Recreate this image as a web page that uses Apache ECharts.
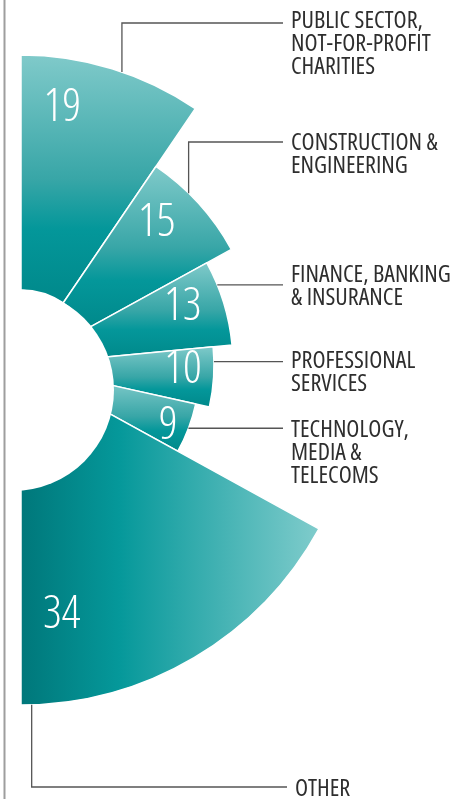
<!DOCTYPE html>
<html>
<head>
<meta charset="utf-8">
<script src="https://cdn.jsdelivr.net/npm/echarts@6/dist/echarts.min.js"></script>
<style>
  html, body { margin: 0; padding: 0; background: #fff; }
  #chart { width: 462px; height: 799px; }
</style>
</head>
<body>
<div id="chart"></div>
<script>
// Respondents by sector, per cent
const sectors = [
  'PUBLIC SECTOR,\nNOT-FOR-PROFIT\nCHARITIES',
  'CONSTRUCTION &\nENGINEERING',
  'FINANCE, BANKING\n& INSURANCE',
  'PROFESSIONAL\nSERVICES',
  'TECHNOLOGY,\nMEDIA &\nTELECOMS',
  'OTHER'
];
const shares = [19, 15, 13, 10, 9, 34];

// Geometry of the half rose (pixels)
const CENTER = [21, 365];
const INNER = 75;
const outerRadius = [310, 240, 212, 193, 179, 340];
// value label position around CENTER: [angle in degrees, distance]
const valueLabelPolar = [[81, 263], [47, 199], [20.7, 173], [-0.5, 162], [-21.5, 158], [-80.6, 250]];
// callouts: anchor angle on the outer arc, and height of the horizontal run (null = straight out)
const calloutAngle = [71, 45.7, 22.2, 1, -20.7, -88.2];
const calloutY = [23, 142, null, null, null, 787];
// nudge of each callout text block relative to its line end: [dx, dy]
const calloutTextNudge = [[0, -2], [0, 1], [0, -10], [0, 0], [0, 2], [4, 2]];
const TEXT_X = 291;

const FONT = "'Open Sans', 'DejaVu Sans', sans-serif";

function polar(angleDeg, r) {
  const a = angleDeg * Math.PI / 180;
  return [CENTER[0] + r * Math.cos(a), CENTER[1] - r * Math.sin(a)];
}

const verticalFade = {
  type: 'linear', x: 0, y: 0, x2: 0, y2: 1,
  colorStops: [
    { offset: 0, color: '#80caca' },
    { offset: 0.5, color: '#38a6a7' },
    { offset: 0.7, color: '#04979a' },
    { offset: 1, color: '#00888a' }
  ]
};
const horizontalFade = {
  type: 'linear', x: 0, y: 0, x2: 1, y2: 0,
  colorStops: [
    { offset: 0, color: '#00777a' },
    { offset: 0.33, color: '#05989a' },
    { offset: 1, color: '#80cccc' }
  ]
};

const baseSlice = {
  type: 'pie',
  center: CENTER,
  startAngle: 90,
  endAngle: -90,
  clockwise: true,
  silent: true,
  avoidLabelOverlap: false
};

// One series per sector so each can carry its own outer radius
const sliceSeries = shares.map((v, i) => Object.assign({}, baseSlice, {
  name: sectors[i],
  radius: [INNER, outerRadius[i]],
  z: 2,
  data: shares.map((s, j) => ({
    value: s,
    name: sectors[j],
    itemStyle: j === i
      ? { color: i === shares.length - 1 ? horizontalFade : verticalFade, borderColor: '#fff', borderWidth: 1.5 }
      : { color: 'transparent', borderWidth: 0 },
    label: { show: j === i }
  })),
  label: {
    position: 'inside',
    formatter: '{c}',
    color: '#fff',
    fontFamily: FONT,
    fontStyle: 'condensed',
    fontWeight: 300,
    fontSize: 46
  },
  labelLine: { show: false },
  labelLayout: function (p) {
    const pt = polar(valueLabelPolar[p.dataIndex][0], valueLabelPolar[p.dataIndex][1]);
    return { x: pt[0], y: pt[1] + 3, align: 'center', verticalAlign: 'middle' };
  }
}));

// Sector names with elbow callouts
const calloutSeries = Object.assign({}, baseSlice, {
  name: 'callouts',
  radius: [INNER, Math.max.apply(null, outerRadius)],
  z: 3,
  itemStyle: { color: 'transparent', borderWidth: 0 },
  data: shares.map((s, j) => ({ value: s, name: sectors[j] })),
  label: {
    show: true,
    position: 'outside',
    formatter: '{b}',
    color: '#2e2e2e',
    fontFamily: FONT,
    fontStyle: 'semi-condensed',
    fontSize: 24,
    lineHeight: 23,
    width: 175,
    overflow: 'none'
  },
  labelLine: { show: true, smooth: false, lineStyle: { color: '#555', width: 1.3 } },
  labelLayout: function (p) {
    const i = p.dataIndex;
    const a = polar(calloutAngle[i], outerRadius[i]);
    const y = calloutY[i] == null ? a[1] : calloutY[i];
    const nudge = calloutTextNudge[i];
    return {
      x: TEXT_X + nudge[0],
      y: y - 11.5 + nudge[1],
      align: 'left',
      verticalAlign: 'top',
      labelLinePoints: [a, [a[0], y], [TEXT_X - 8 + nudge[0], y]]
    };
  }
});

const chart = echarts.init(document.getElementById('chart'), null, { renderer: 'canvas' });
chart.setOption({
  animation: false,
  backgroundColor: '#fff',
  series: sliceSeries.concat([calloutSeries]),
  graphic: [
    { type: 'circle', shape: { cx: 13, cy: 390, r: 101 }, style: { fill: '#fff' }, z: 10, silent: true },
    { type: 'line', shape: { x1: 4.5, y1: 0, x2: 4.5, y2: 799 }, style: { stroke: '#9e9e9e', lineWidth: 2 }, z: 11, silent: true }
  ]
});
</script>
</body>
</html>
